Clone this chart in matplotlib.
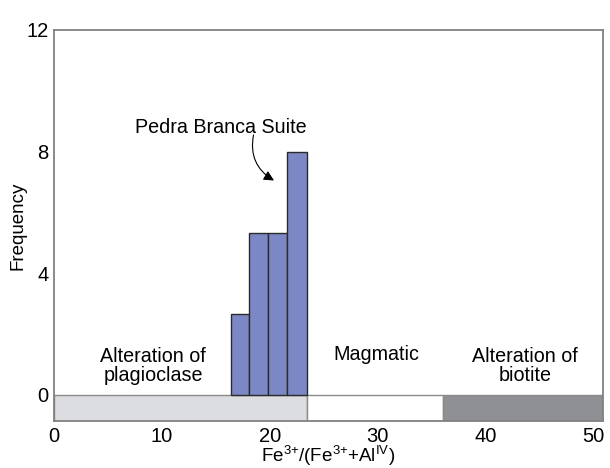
import matplotlib
matplotlib.use('Agg')
import matplotlib.pyplot as plt
from matplotlib.patches import Rectangle

plt.rcParams['font.family'] = ['Liberation Sans', 'DejaVu Sans']
plt.rcParams['mathtext.fontset'] = 'custom'
plt.rcParams['mathtext.rm'] = 'Liberation Sans'
plt.rcParams['mathtext.default'] = 'regular'

# histogram data (Pedra Branca Suite)
bin_edges = [16.4, 18.1, 19.8, 21.6, 23.5]
counts = [2.65, 5.33, 5.33, 8.0]

# field bands under the axis
band_starts = [0.0, 23.5, 36.1]
band_ends = [23.5, 36.1, 51.5]
band_colors = ['#dcdde0', '#ffffff', '#8f9094']
band_names = ['Alteration of\nplagioclase', 'Magmatic', 'Alteration of\nbiotite']
name_x = [9.2, 29.9, 43.7]
name_y = [0.95, 1.32, 0.95]

xticks = [0, 10, 20, 30, 40, 50]
yticks = [0, 4, 8, 12]

fig = plt.figure(figsize=(6.10, 4.68), dpi=100)
ax = fig.add_axes([0.0885, 0.1004, 0.9, 0.8355])

widths = [b - a for a, b in zip(bin_edges[:-1], bin_edges[1:])]
ax.bar(bin_edges[:-1], counts, width=widths, align='edge',
       color='#7b88c5', edgecolor='#2a2a2a', linewidth=1.0, zorder=3)

for s, e, c in zip(band_starts, band_ends, band_colors):
    ax.add_patch(Rectangle((s, -0.86), e - s, 0.86, facecolor=c,
                           edgecolor='#8a8a8a', linewidth=1.0, zorder=2))

for x, y, t in zip(name_x, name_y, band_names):
    ax.text(x, y, t, ha='center', va='center', fontsize=14.2, linespacing=1.05)

# label and curved arrow
ax.text(15.5, 8.8, 'Pedra Branca Suite', ha='center', va='center', fontsize=14.2)
ax.annotate('', xy=(20.4, 7.05), xytext=(18.5, 8.55),
            arrowprops=dict(arrowstyle='-|>', color='black', lw=0.8,
                            shrinkA=0, shrinkB=0, mutation_scale=15,
                            connectionstyle='arc3,rad=0.35'))

ax.set_xlim(0.4, 50.9)
ax.set_ylim(-0.86, 12)
ax.set_xticks(xticks)
ax.set_yticks(yticks)
ax.tick_params(length=0, labelsize=14.5, pad=4)
for sp in ax.spines.values():
    sp.set_color('#808080')
    sp.set_linewidth(1.3)

ax.set_xlabel(r'Fe$^{\text{3+}}$/(Fe$^{\text{3+}}$+Al$^{\text{IV}}$)', fontsize=13.5, labelpad=-1)
ax.set_ylabel('Frequency', fontsize=13.5, labelpad=0)

fig.savefig('out.png', dpi=100)
